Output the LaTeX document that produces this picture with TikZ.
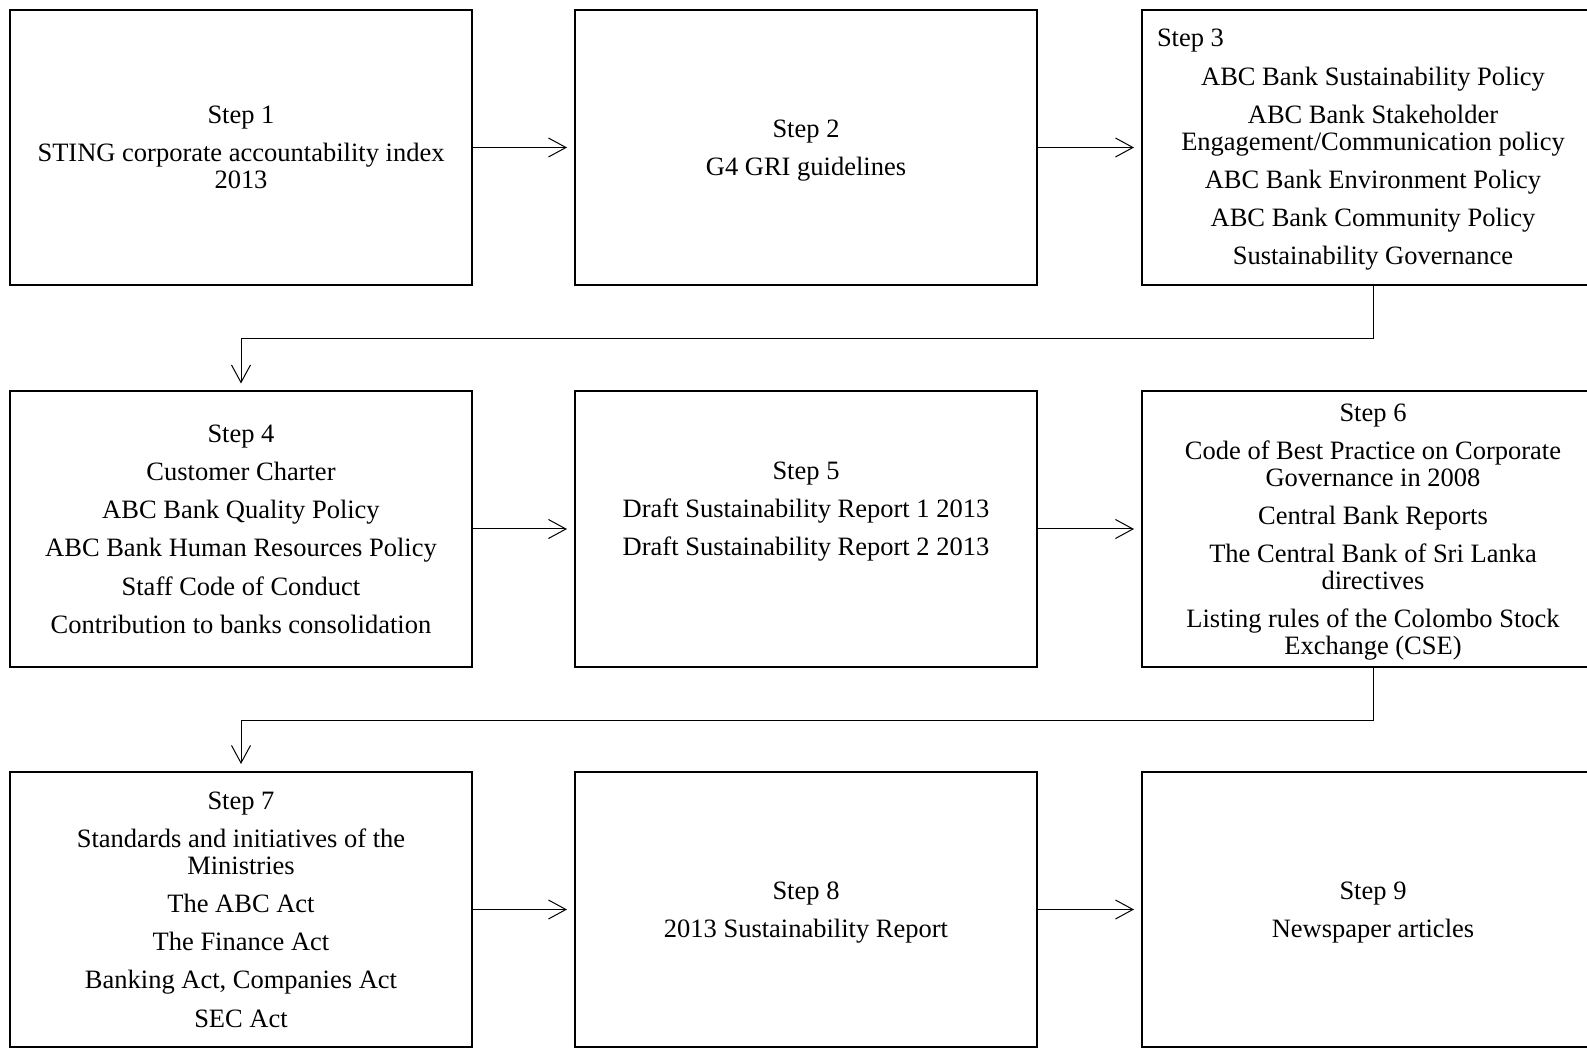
\documentclass[tikz,border=0pt]{standalone}
\usepackage{fontspec}
\setmainfont{Liberation Serif}
\usetikzlibrary{arrows.meta}
\newcommand{\stepgap}{\\[5.7pt]}
\begin{document}
\begin{tikzpicture}[x=0.5pt,y=-0.5pt,
  txt/.style={align=center, inner sep=0pt, text depth=0pt, font=\fontsize{13.25}{13.4}\selectfont},
  box/.style={txt, draw, line width=1pt, minimum width=231pt, minimum height=137.5pt},
  arr/.style={line width=0.5pt, -{Straight Barb[length=8.75pt,width=9.5pt]}, shorten >=3.5pt}]
\useasboundingbox (0,0) rectangle (1587,1048);
\clip (0,0) rectangle (1587,1048);
% Row 1
\node[box] (b1) at (241,147.5) {Step 1\stepgap STING corporate accountability index\\2013};
\node[box] (b2) at (806,147.5) {Step 2\stepgap G4 GRI guidelines};
\node[box] (b3) at (1373,147.5) {};
\node[txt, align=flush center, text depth=, text width=216pt] (t3) at ([yshift=-1.2pt]b3.center) {\makebox[\linewidth][l]{Step 3}\stepgap ABC Bank Sustainability Policy\stepgap ABC Bank Stakeholder\\Engagement/Communication policy\stepgap ABC Bank Environment Policy\stepgap ABC Bank Community Policy\stepgap Sustainability Governance};
% Row 2
\node[box] (b4) at (241,529) {Step 4\stepgap Customer Charter\stepgap ABC Bank Quality Policy\stepgap ABC Bank Human Resources Policy\stepgap Staff Code of Conduct\stepgap Contribution to banks consolidation};
\node[box] (b5) at (806,529) {};
\node[txt] (t5) at ([yshift=10pt]b5.center) {Step 5\stepgap Draft Sustainability Report 1 2013\stepgap Draft Sustainability Report 2 2013};
\node[box] (b6) at (1373,529) {Step 6\stepgap Code of Best Practice on Corporate\\Governance in 2008\stepgap Central Bank Reports\stepgap The Central Bank of Sri Lanka\\directives\stepgap Listing rules of the Colombo Stock\\Exchange (CSE)};
% Row 3
\node[box] (b7) at (241,909.5) {Step 7\stepgap Standards and initiatives of the\\Ministries\stepgap The ABC Act\stepgap The Finance Act\stepgap Banking Act, Companies Act\stepgap SEC Act};
\node[box] (b8) at (806,909.5) {Step 8\stepgap 2013 Sustainability Report};
\node[box] (b9) at (1373,909.5) {Step 9\stepgap Newspaper articles};
% Connectors
\draw[arr] (b1) -- (b2);
\draw[arr] (b2) -- (b3);
\draw[arr] (b3.south) -- ++(0,53) -| (b4.north);
\draw[arr] (b4) -- (b5);
\draw[arr] (b5) -- (b6);
\draw[arr] (b6.south) -- ++(0,53) -| (b7.north);
\draw[arr] (b7) -- (b8);
\draw[arr] (b8) -- (b9);
\end{tikzpicture}
\end{document}
